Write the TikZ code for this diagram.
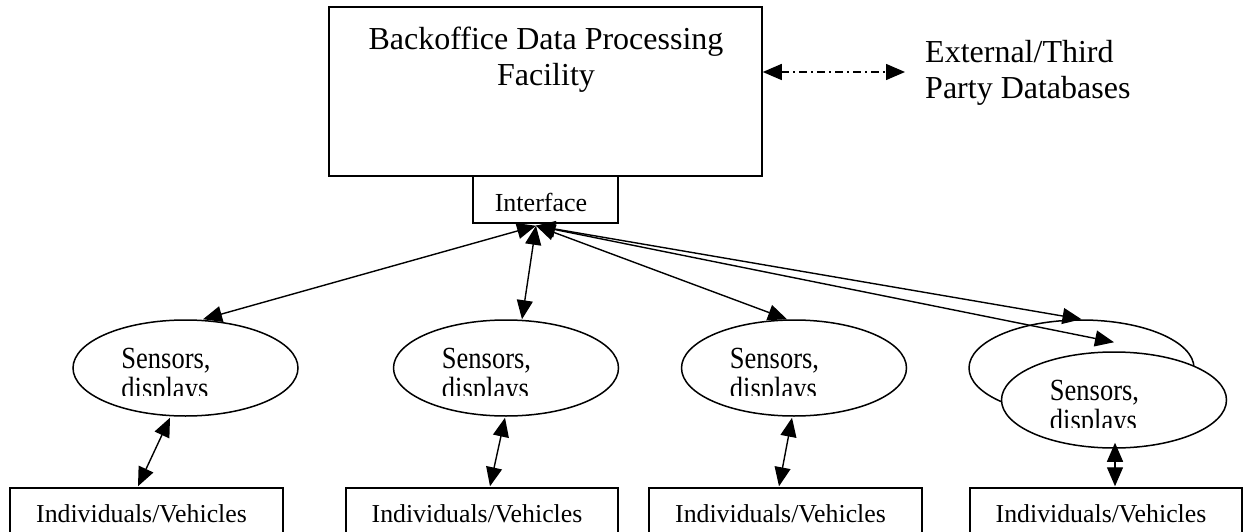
\documentclass[tikz,border=0pt]{standalone}
\usepackage{fontspec}
\setmainfont{Liberation Serif}
\usepackage{graphicx}
\usetikzlibrary{arrows.meta,calc,shapes.geometric}

\tikzset{
  frame/.style={draw, line width=1.5pt, inner sep=0pt},
  oval/.style={ellipse, draw, fill=white, line width=1.5pt,
    minimum width=225pt, minimum height=96pt, inner sep=0pt},
  link/.style={line width=1.4pt,
    {Triangle[length=19pt,width=16pt]}-{Triangle[length=19pt,width=16pt]}},
  dashdot/.style={dash pattern=on 8pt off 4pt on 2pt off 4pt},
  bigtext/.style={font=\fontsize{32}{36}\selectfont, inner sep=0pt},
  smalltext/.style={font=\fontsize{26}{30}\selectfont, inner sep=0pt},
  boxtext/.style={font=\fontsize{25.8}{30}\selectfont, inner sep=0pt},
  sensortext/.style={font=\fontsize{26.5}{26}\selectfont, inner sep=0pt},
}

% label of a sensor ellipse: the text frame cuts off the second line
\newcommand\sensorlabel[2]{%
  \begin{scope}
    \clip ($(#1.west)+(0,-60)$) rectangle ($(#1.east)+(0,27)$);
    \node[sensortext, anchor=base west] (#2) at ($(#1.west)+(49,0)$)
      {\scalebox{1}[1.16]{\begin{tabular}[t]{@{}l@{}}Sensors,\\displays\end{tabular}}};
  \end{scope}}

\begin{document}
\begin{tikzpicture}[x=1pt, y=-1pt]
  \fill[white] (0,0) rectangle (1249,532);
  \clip (0,0) rectangle (1249,532);

  % back office and its interface
  \node[frame, minimum width=433pt, minimum height=169pt] (office) at (545.5,91.5) {};
  \node[bigtext, anchor=base] (officetxt) at (546,50)
    {\begin{tabular}[t]{@{}c@{}}Backoffice Data Processing\\Facility\end{tabular}};
  \node[frame, fill=white, minimum width=145pt, minimum height=47pt] (iface) at (545.5,199.5) {};
  \node[smalltext, anchor=base] (ifacetxt) at (541,211) {Interface};

  % external databases
  \node[bigtext, anchor=base west] (ext) at (925,63)
    {\begin{tabular}[t]{@{}l@{}}External/Third\\Party Databases\end{tabular}};
  \coordinate (dbend) at (905,72);
  \draw[link, dashdot] (office.east |- dbend) -- (dbend);

  % sensor ellipses
  \node[oval] (s1) at (185.5,368) {};
  \node[oval] (s2) at (506,368) {};
  \node[oval] (s3) at (794,368) {};
  \node[oval] (s4b) at (1081.5,368) {};
  \node[oval] (s4) at (1114,400) {};
  \sensorlabel{s1}{s1txt}
  \sensorlabel{s2}{s2txt}
  \sensorlabel{s3}{s3txt}
  \sensorlabel{s4}{s4txt}

  % individuals / vehicles
  \node[frame, minimum width=273pt, minimum height=57pt] (v1) at (146.5,516.5) {};
  \node[frame, minimum width=272pt, minimum height=57pt] (v2) at (482,516.5) {};
  \node[frame, minimum width=273pt, minimum height=57pt] (v3) at (785.5,516.5) {};
  \node[frame, minimum width=272pt, minimum height=57pt] (v4) at (1106,516.5) {};
  \node[boxtext, anchor=base] (v1txt) at ($(v1.center)+(-5,5.5)$) {Individuals/Vehicles};
  \node[boxtext, anchor=base] (v2txt) at ($(v2.center)+(-5,5.5)$) {Individuals/Vehicles};
  \node[boxtext, anchor=base] (v3txt) at ($(v3.center)+(-5,5.5)$) {Individuals/Vehicles};
  \node[boxtext, anchor=base] (v4txt) at ($(v4.center)+(-5,5.5)$) {Individuals/Vehicles};

  % interface to sensors
  \coordinate (hub) at ($(iface.south)+(-9.5,2)$);
  \draw[link] (hub) -- ($(s1.north)+(17.5,0)$);
  \draw[link] (hub) -- ($(s2.north)+(16,0)$);
  \draw[link] (hub) -- ($(s3.north)+(-7,0)$);
  \draw[link] (hub) -- (s4b.north);
  \draw[link] (hub) -- ($(s4.north)+(0,-9)$);

  % sensors to individuals / vehicles
  \draw[link] ($(s1.south)+(-15.5,1)$) -- ($(v1.north)+(-8.5,-1)$);
  \draw[link] ($(s2.south)+(-1,1)$) -- ($(v2.north)+(8,-1)$);
  \draw[link] ($(s3.south)+(-2,1)$) -- ($(v3.north)+(-6.5,-1)$);
  \draw[link] ($(s4.south)+(1,-6)$) -- ($(v4.north)+(9,-1)$);
\end{tikzpicture}
\end{document}
